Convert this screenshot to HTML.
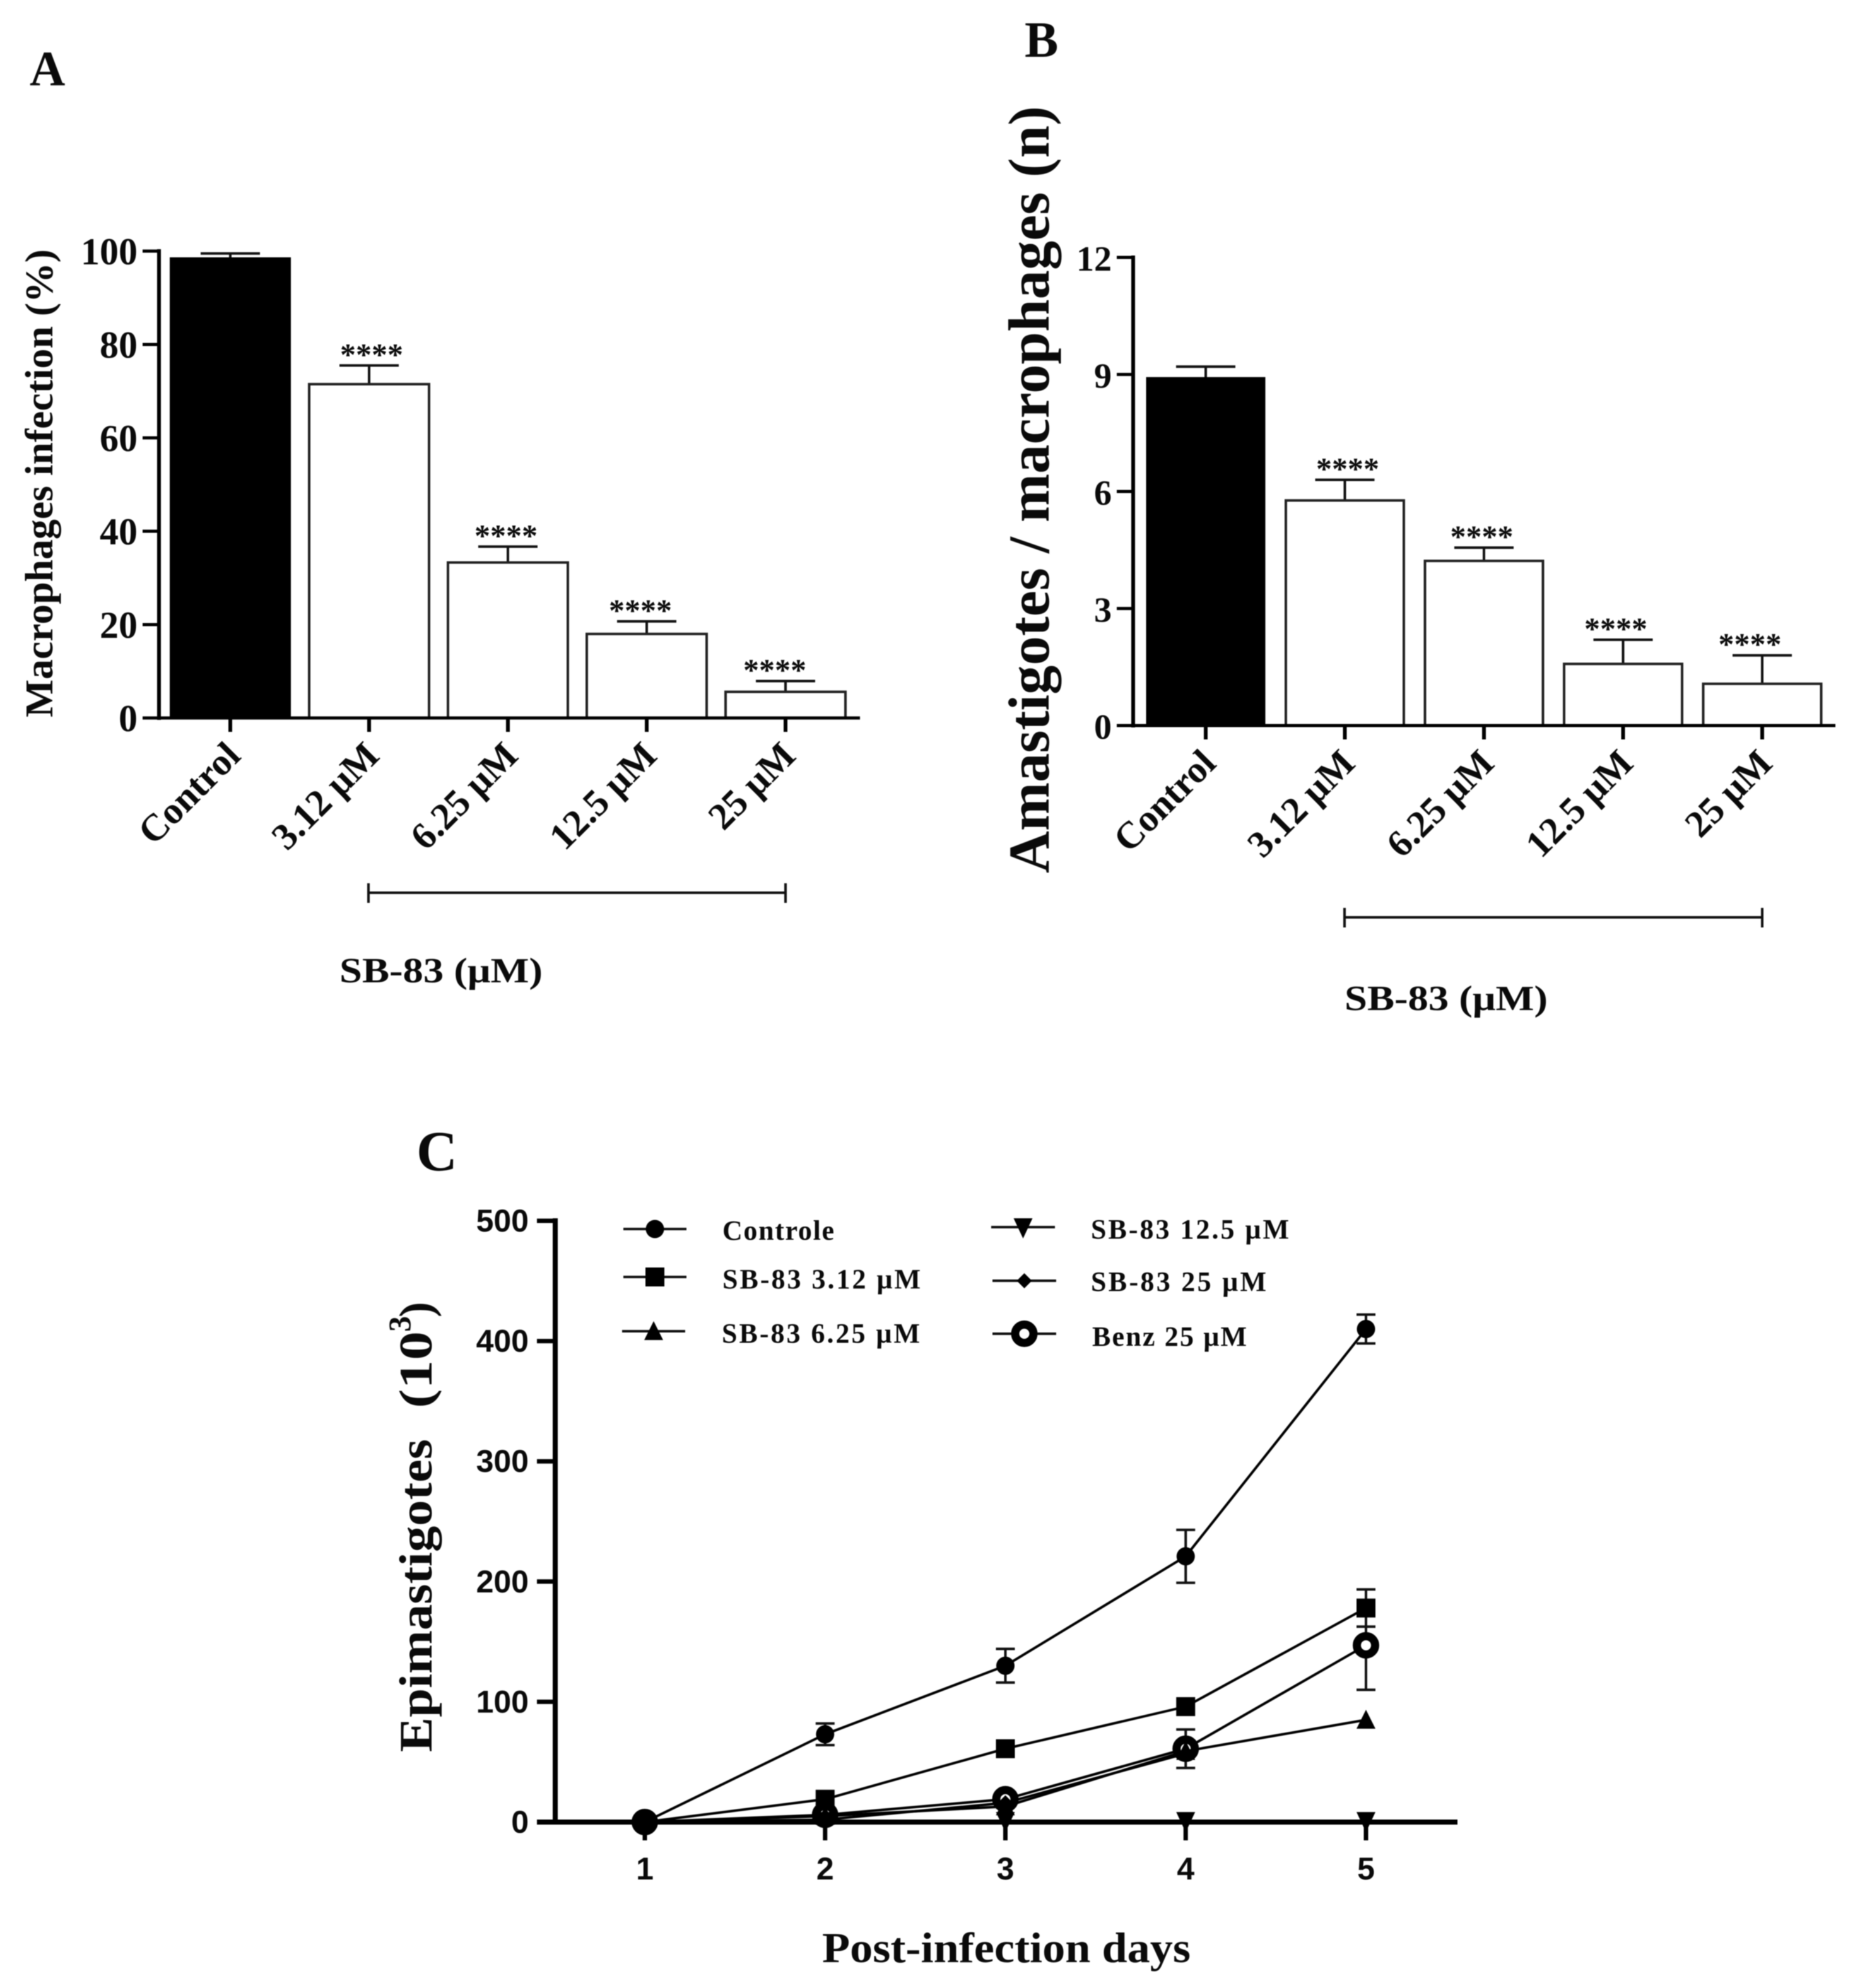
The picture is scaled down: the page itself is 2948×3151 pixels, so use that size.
<!DOCTYPE html>
<html lang="en">
<head>
<meta charset="utf-8">
<title>SB-83 anti-parasitic activity panels</title>
<style>
html,body{margin:0;padding:0;background:#fff;width:2948px;height:3151px;overflow:hidden}
svg{display:block;filter:blur(0.7px)}
text{fill:#0a0a0a;font-family:"Liberation Serif",serif;font-weight:700}
</style>
</head>
<body>
<svg id="figure" xmlns="http://www.w3.org/2000/svg" width="2948" height="3151" viewBox="0 0 2948 3151">
  <rect x="0" y="0" width="2948" height="3151" fill="#fff"/>

  <text x="47" y="135" font-size="78">A</text>
  <text x="1624" y="90" font-size="80">B</text>
  <text x="660" y="1855" font-size="90">C</text>

  <text transform="translate(83,1137) rotate(-90)" font-size="62" textLength="742" lengthAdjust="spacingAndGlyphs">Macrophages infection (%)</text>
  <text transform="translate(1662,1384) rotate(-90)" font-size="92" textLength="1216" lengthAdjust="spacingAndGlyphs">Amastigotes / macrophages (n)</text>

  <text transform="translate(684,2777) rotate(-90)" font-size="74" textLength="496" lengthAdjust="spacingAndGlyphs">Epimastigotes</text>
  <text transform="translate(684,2232) rotate(-90)" font-size="74" textLength="122" lengthAdjust="spacingAndGlyphs">(10</text>
  <text transform="translate(650,2111) rotate(-90)" font-size="50">3</text>
  <text transform="translate(684,2088) rotate(-90)" font-size="74">)</text>
  <text x="1303" y="3110" font-size="68" textLength="584" lengthAdjust="spacingAndGlyphs">Post-infection days</text>

  <g stroke="#111" stroke-width="4" fill="none">
    <path d="M584 1415H1245M584 1400V1431M1245 1400V1431"/>
  </g>
  <text x="538" y="1557" font-size="56" textLength="322" lengthAdjust="spacingAndGlyphs">SB-83 (μM)</text>

  <g stroke="#111" stroke-width="4" fill="none">
    <path d="M2131 1454H2793M2131 1439V1470M2793 1439V1470"/>
  </g>
  <text x="2131" y="1601" font-size="56" textLength="322" lengthAdjust="spacingAndGlyphs">SB-83 (μM)</text>

  <g id="panelA"></g>
  <g id="panelB"></g>
  <g id="panelC"></g>
  <g id="legendC"></g>
</svg>

<script>
// Panel A data
const categoriesA = ['Control', '3.12 μM', '6.25 μM', '12.5 μM', '25 μM'];
const valuesA = [98.4, 71.5, 33.3, 18, 5.6];
const errorsA = [1.1, 4.0, 3.4, 2.7, 2.3];
const ticksA = [0, 20, 40, 60, 80, 100];
const significanceA = ['', '****', '****', '****', '****'];

// Panel B data
const categoriesB = ['Control', '3.12 μM', '6.25 μM', '12.5 μM', '25 μM'];
const valuesB = [8.9, 5.77, 4.22, 1.58, 1.07];
const errorsB = [0.3, 0.53, 0.34, 0.62, 0.73];
const ticksB = [0, 3, 6, 9, 12];
const significanceB = ['', '****', '****', '****', '****'];

// Panel C data
const days = [1, 2, 3, 4, 5];
const ticksC = [0, 100, 200, 300, 400, 500];
const controle = [0, 73, 130, 221, 410];
const controleErr = [0, 9, 14, 22, 12];
const sb312 = [0, 19, 61, 96, 178];
const sb312Err = [0, 0, 0, 0, 15.5];
const sb625 = [0, 5, 13, 59, 85];
const sb625Err = [0, 0, 0, 0, 0];
const sb125 = [0, 1, 1, 1, 1];
const sb125Err = [0, 0, 0, 0, 0];
const sb25 = [0, 2, 16, 57, null];
const sb25Err = [0, 0, 0, 0, 0];
const benz = [0, 6, 19, 61, 147];
const benzErr = [0, 0, 0, 16, 37];

const NS = 'http://www.w3.org/2000/svg';

function make(parent, tag, attrs, name) {
  const el = document.createElementNS(NS, tag);
  for (const k in attrs) el.setAttribute(k, attrs[k]);
  
  
  parent.appendChild(el);
  return el;
}

function label(parent, content, attrs, name) {
  const el = make(parent, 'text', attrs, name);
  el.textContent = content;
  return el;
}

function barChart(root, cfg) {
  const xBar = i => cfg.x0 + i * cfg.step;
  const yVal = v => cfg.yBase - (v / cfg.max) * (cfg.yBase - cfg.yTop);

  cfg.values.forEach((v, i) => {
    const cx = xBar(i);
    const top = yVal(v);
    const errTop = yVal(v + cfg.errors[i]);
    make(root, 'path', {
      d: 'M' + cx + ' ' + top + 'V' + errTop + 'M' + (cx - 47) + ' ' + errTop + 'H' + (cx + 47),
      stroke: '#111', 'stroke-width': 4, fill: 'none'
    }, 'error-bar-' + i);
    if (i === 0) {
      make(root, 'rect', {
        x: cx - cfg.barW / 2 - 1, y: top - 2, width: cfg.barW + 2, height: cfg.yBase - top + 2, fill: '#000'
      }, 'bar-' + i);
    } else {
      make(root, 'rect', {
        x: cx - cfg.barW / 2, y: top, width: cfg.barW, height: cfg.yBase - top,
        fill: '#fff', stroke: '#222', 'stroke-width': 4
      }, 'bar-' + i);
    }
    make(root, 'line', {
      x1: cx, x2: cx, y1: cfg.yBase, y2: cfg.yBase + 22, stroke: '#000', 'stroke-width': 6
    }, 'x-tick-' + i);
    label(root, cfg.categories[i], {
      transform: 'translate(' + (cx + 19) + ',' + (cfg.yBase + 63) + ') rotate(-45)',
      'text-anchor': 'end', 'font-size': 60
    }, 'x-tick-label-' + i);
    if (cfg.significance[i]) {
      label(root, cfg.significance[i], {
        x: cfg.starX0 + (i - 1) * cfg.starStep, y: errTop - 1, 'text-anchor': 'middle', 'font-size': 50
      }, 'significance-' + i);
    }
  });

  make(root, 'line', {
    x1: cfg.xAxis, x2: cfg.xAxis, y1: cfg.yTop - 3, y2: cfg.yBase + 3, stroke: '#000', 'stroke-width': 6
  }, 'y-axis-line');
  make(root, 'line', {
    x1: cfg.xAxis - 26, x2: cfg.xEnd, y1: cfg.yBase, y2: cfg.yBase, stroke: '#000', 'stroke-width': 5
  }, 'x-axis-line');

  cfg.ticks.forEach(t => {
    const y = yVal(t);
    make(root, 'line', {
      x1: cfg.xAxis - 26, x2: cfg.xAxis, y1: y, y2: y, stroke: '#000', 'stroke-width': 5
    }, 'y-tick-' + t);
    label(root, String(t), {
      x: cfg.xAxis - 34, y: y + 21, 'text-anchor': 'end', 'font-size': cfg.tickFont
    }, 'y-tick-label-' + t);
  });
}

barChart(document.getElementById('panelA'), {
  categories: categoriesA, values: valuesA, errors: errorsA, ticks: ticksA, significance: significanceA,
  max: 100, x0: 365, step: 220, barW: 190, xAxis: 252, xEnd: 1363, yTop: 398, yBase: 1138,
  tickFont: 60, starX0: 589, starStep: 213
});

barChart(document.getElementById('panelB'), {
  categories: categoriesB, values: valuesB, errors: errorsB, ticks: ticksB, significance: significanceB,
  max: 12, x0: 1911, step: 220.5, barW: 187, xAxis: 1796, xEnd: 2909, yTop: 408, yBase: 1150,
  tickFont: 56, starX0: 2136, starStep: 212.5
});

function marker(parent, kind, x, y, name) {
  if (kind === 'circle') {
    return make(parent, 'circle', { cx: x, cy: y, r: 14.5, fill: '#000' }, name);
  }
  if (kind === 'square') {
    return make(parent, 'rect', { x: x - 15, y: y - 15, width: 30, height: 30, fill: '#000' }, name);
  }
  if (kind === 'triangle') {
    return make(parent, 'path', {
      d: 'M' + x + ' ' + (y - 16) + 'L' + (x + 15) + ' ' + (y + 14) + 'H' + (x - 15) + 'Z', fill: '#000'
    }, name);
  }
  if (kind === 'inverted') {
    return make(parent, 'path', {
      d: 'M' + x + ' ' + (y + 18) + 'L' + (x + 15) + ' ' + (y - 14) + 'H' + (x - 15) + 'Z', fill: '#000'
    }, name);
  }
  if (kind === 'diamond') {
    return make(parent, 'path', {
      d: 'M' + x + ' ' + (y - 12) + 'L' + (x + 12) + ' ' + y + 'L' + x + ' ' + (y + 12) + 'L' + (x - 12) + ' ' + y + 'Z', fill: '#000'
    }, name);
  }
  return make(parent, 'circle', { cx: x, cy: y, r: 14.5, fill: '#fff', stroke: '#000', 'stroke-width': 13 }, name);
}

const rootC = document.getElementById('panelC');
const xC = d => 1022 + (d - 1) * 285.75;
const yC = v => 2888 - v * 1.906;

function series(values, errs, kind, name) {
  const g = make(rootC, 'g', {}, name);
  let d = '';
  values.forEach((v, i) => {
    if (v === null) return;
    d += (d ? 'L' : 'M') + xC(days[i]) + ' ' + yC(v);
  });
  make(g, 'path', { d: d, fill: 'none', stroke: '#000', 'stroke-width': 4 }, name + '-line');
  values.forEach((v, i) => {
    if (v === null || !errs[i]) return;
    const x = xC(days[i]);
    const hi = yC(v + errs[i]);
    const lo = yC(v - errs[i]);
    make(g, 'path', {
      d: 'M' + x + ' ' + hi + 'V' + lo + 'M' + (x - 15) + ' ' + hi + 'H' + (x + 15) + 'M' + (x - 15) + ' ' + lo + 'H' + (x + 15),
      fill: 'none', stroke: '#111', 'stroke-width': 4
    }, name + '-error-' + days[i]);
  });
  values.forEach((v, i) => {
    if (v === null) return;
    marker(g, kind, xC(days[i]), yC(v), name + '-point-' + days[i]);
  });
}

days.forEach(d => {
  make(rootC, 'line', {
    x1: xC(d), x2: xC(d), y1: 2888, y2: 2917, stroke: '#000', 'stroke-width': 7
  }, 'x-tick-' + d);
  label(rootC, String(d), {
    x: xC(d), y: 2979, 'text-anchor': 'middle', 'font-size': 50,
    style: 'font-family:"Liberation Sans",sans-serif'
  }, 'x-tick-label-' + d);
});

ticksC.forEach(t => {
  make(rootC, 'line', {
    x1: 851, x2: 880, y1: yC(t), y2: yC(t), stroke: '#000', 'stroke-width': 7
  }, 'y-tick-' + t);
  label(rootC, String(t), {
    x: 838, y: yC(t) + 17, 'text-anchor': 'end', 'font-size': 50,
    style: 'font-family:"Liberation Sans",sans-serif'
  }, 'y-tick-label-' + t);
});

make(rootC, 'line', { x1: 880, x2: 880, y1: 1931, y2: 2892, stroke: '#000', 'stroke-width': 8 }, 'y-axis-line');
make(rootC, 'line', { x1: 851, x2: 2310, y1: 2888, y2: 2888, stroke: '#000', 'stroke-width': 8 }, 'x-axis-line');

series(benz, benzErr, 'ring', 'series-benz-25');
series(controle, controleErr, 'circle', 'series-controle');
series(sb312, sb312Err, 'square', 'series-sb83-3-12');
series(sb625, sb625Err, 'triangle', 'series-sb83-6-25');
series(sb125, sb125Err, 'inverted', 'series-sb83-12-5');
series(sb25, sb25Err, 'diamond', 'series-sb83-25');

const legendRoot = document.getElementById('legendC');

function legendEntry(text, kind, x1, x2, y, tx, ty, tw, name) {
  const g = make(legendRoot, 'g', {}, name);
  make(g, 'line', { x1: x1, x2: x2, y1: y, y2: y, stroke: '#111', 'stroke-width': 4 }, name + '-line');
  marker(g, kind, (x1 + x2) / 2, y, name + '-marker');
  label(g, text, { x: tx, y: ty, 'font-size': 44, textLength: tw, lengthAdjust: 'spacing' }, name + '-label');
}

legendEntry('Controle', 'circle', 988, 1088, 1948, 1145, 1965, 177, 'legend-controle');
legendEntry('SB-83 3.12 μM', 'square', 988, 1088, 2024, 1145, 2042, 314, 'legend-sb83-3-12');
legendEntry('SB-83 6.25 μM', 'triangle', 986, 1086, 2110, 1144, 2128, 314, 'legend-sb83-6-25');
legendEntry('SB-83 12.5 μM', 'inverted', 1571, 1672, 1945, 1729, 1963, 314, 'legend-sb83-12-5');
legendEntry('SB-83 25 μM', 'diamond', 1573, 1674, 2030, 1729, 2046, 278, 'legend-sb83-25');
legendEntry('Benz 25 μM', 'ring', 1573, 1674, 2114, 1731, 2133, 245, 'legend-benz-25');
</script>
</body>
</html>
